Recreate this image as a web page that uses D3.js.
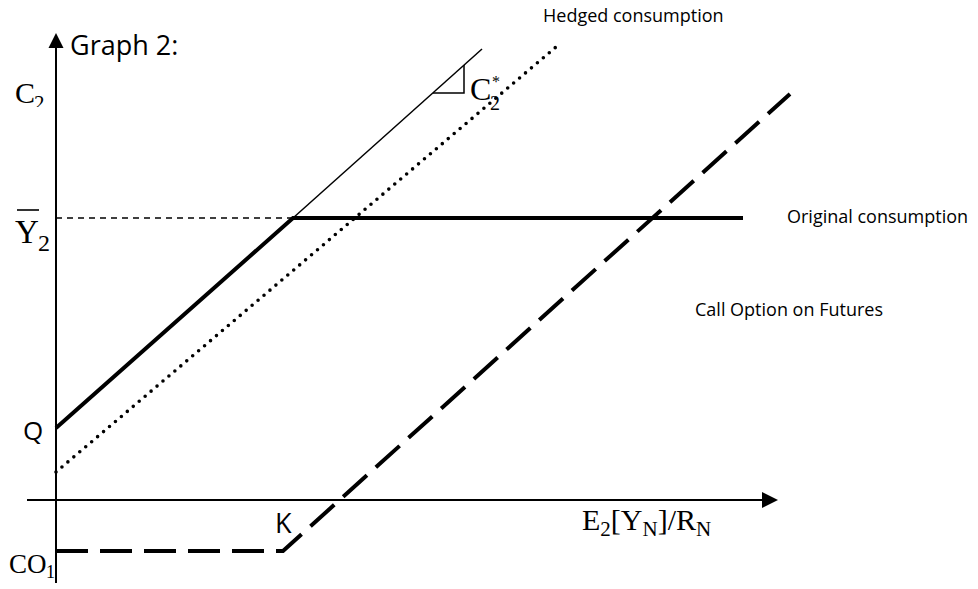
<!DOCTYPE html>
<html>
<head>
<meta charset="utf-8">
<script src="https://cdn.jsdelivr.net/npm/d3@7"></script>
<style>
  html, body { margin: 0; padding: 0; background: #fff; }
  svg { display: block; }
  .sans { font-family: "Open Sans", sans-serif; fill: #000; }
  .serif { font-family: "Liberation Serif", "DejaVu Serif", serif; fill: #000; }
</style>
</head>
<body>
<svg id="chart" width="978" height="589"></svg>
<script>
// ---------- data (abstract diagram units) ----------
const axisXExtent = [-0.58, 14.44];       // horizontal axis, from left stub to arrow tip
const axisYExtent = [-1.66, 9.34];        // vertical axis, from bottom stub to arrow tip
const originalX = [0, 4.74, 13.74];       // original consumption (thick)
const originalY = [1.44, 5.64, 5.64];
const thinX = [4.74, 8.52];               // continuation of 45° line (thin)
const thinY = [5.64, 9.02];
const hedgedX = [0, 10.0];                // hedged consumption (dotted)
const hedgedY = [0.56, 9.06];
const callX = [0, 4.54, 14.68];           // call option on futures (dashed)
const callY = [-1.02, -1.02, 8.12];
const guideX = [0, 4.74];                 // Ybar guide (thin dashed)
const guideY = [5.64, 5.64];
const triX = [7.54, 8.16, 8.16];          // slope triangle C2*
const triY = [8.14, 8.14, 8.70];
const seriesLabels = ["Hedged consumption", "Original consumption", "Call Option on Futures"];

// ---------- scales ----------
const x = d3.scaleLinear().domain([0, 15]).range([56, 806]);
const y = d3.scaleLinear().domain([0, 9]).range([500, 50]);

const svg = d3.select("#chart");
const line = d3.line().x(d => x(d[0])).y(d => y(d[1]));
const pts = (xs, ys) => xs.map((v, i) => [v, ys[i]]);

// ---------- axes ----------
svg.append("line")
  .attr("x1", x(axisXExtent[0])).attr("x2", x(axisXExtent[1]) - 10)
  .attr("y1", y(0)).attr("y2", y(0))
  .attr("stroke", "#000").attr("stroke-width", 2);
svg.append("path")
  .attr("d", `M${x(axisXExtent[1])},${y(0)} L${x(axisXExtent[1]) - 16},${y(0) - 8} L${x(axisXExtent[1]) - 16},${y(0) + 8} Z`)
  .attr("fill", "#000");
svg.append("line")
  .attr("x1", x(0)).attr("x2", x(0))
  .attr("y1", y(axisYExtent[0])).attr("y2", y(axisYExtent[1]) + 10)
  .attr("stroke", "#000").attr("stroke-width", 2);
svg.append("path")
  .attr("d", `M${x(0)},${y(axisYExtent[1])} L${x(0) - 7.5},${y(axisYExtent[1]) + 15} L${x(0) + 7.5},${y(axisYExtent[1]) + 15} Z`)
  .attr("fill", "#000");

// ---------- guide line ----------
svg.append("path").attr("d", line(pts(guideX, guideY)))
  .attr("fill", "none").attr("stroke", "#000").attr("stroke-width", 1.3)
  .attr("stroke-dasharray", "6,5");

// ---------- series ----------
svg.append("path").attr("d", line(pts(thinX, thinY)))
  .attr("fill", "none").attr("stroke", "#000").attr("stroke-width", 1.5);

svg.append("path").attr("d", line(pts(originalX, originalY)))
  .attr("fill", "none").attr("stroke", "#000").attr("stroke-width", 4)
  .attr("stroke-linejoin", "miter");

svg.append("path").attr("d", line(pts(hedgedX, hedgedY)))
  .attr("fill", "none").attr("stroke", "#000").attr("stroke-width", 3.6)
  .attr("stroke-linecap", "round").attr("stroke-dasharray", "0,7.8");

svg.append("path").attr("d", line(pts(callX, callY)))
  .attr("fill", "none").attr("stroke", "#000").attr("stroke-width", 4)
  .attr("stroke-dasharray", "32,12");

svg.append("path").attr("d", line(pts(triX, triY)))
  .attr("fill", "none").attr("stroke", "#000").attr("stroke-width", 1.5);

// ---------- text ----------
svg.append("text").attr("class", "sans").attr("x", 70).attr("y", 55)
  .attr("font-size", 27).text("Graph 2:");

// C2 (clipped at bottom as in the original)
svg.append("clipPath").attr("id", "c2clip").append("rect")
  .attr("x", 0).attr("y", 60).attr("width", 60).attr("height", 47);
const c2 = svg.append("g").attr("clip-path", "url(#c2clip)");
c2.append("text").attr("class", "serif").attr("x", 15).attr("y", 103).attr("font-size", 30).text("C");
c2.append("text").attr("class", "serif").attr("x", 34).attr("y", 110).attr("font-size", 21).text("2");

// Ybar2
svg.append("text").attr("class", "serif").attr("x", 15).attr("y", 243).attr("font-size", 33).text("Y");
svg.append("line").attr("x1", 17).attr("x2", 39).attr("y1", 210).attr("y2", 210)
  .attr("stroke", "#000").attr("stroke-width", 1.6);
svg.append("text").attr("class", "serif").attr("x", 38).attr("y", 251).attr("font-size", 24).text("2");

// Q
svg.append("text").attr("class", "sans").attr("x", 23).attr("y", 440).attr("font-size", 26).text("Q");

// CO1
svg.append("text").attr("class", "serif").attr("x", 9).attr("y", 573).attr("font-size", 27).text("CO");
svg.append("text").attr("class", "serif").attr("x", 46).attr("y", 578).attr("font-size", 18).text("1");

// K
svg.append("text").attr("class", "sans").attr("x", 275).attr("y", 533).attr("font-size", 27).text("K");

// C2*
svg.append("text").attr("class", "serif").attr("x", 470).attr("y", 100).attr("font-size", 32).text("C");
svg.append("text").attr("class", "serif").attr("x", 492).attr("y", 87).attr("font-size", 16).text("*");
svg.append("text").attr("class", "serif").attr("x", 490).attr("y", 110).attr("font-size", 20).text("2");

// x-axis label E2[YN]/RN
const xl = svg.append("text").attr("class", "serif").attr("x", 582).attr("y", 530).attr("font-size", 30);
xl.append("tspan").text("E");
xl.append("tspan").attr("font-size", 21).attr("dy", 6).text("2");
xl.append("tspan").attr("dy", -6).text("[Y");
xl.append("tspan").attr("font-size", 21).attr("dy", 6).text("N");
xl.append("tspan").attr("dy", -6).text("]/R");
xl.append("tspan").attr("font-size", 21).attr("dy", 6).text("N");

// series labels
svg.append("text").attr("class", "sans").attr("x", 543).attr("y", 22).attr("font-size", 18).text(seriesLabels[0]);
svg.append("text").attr("class", "sans").attr("x", 787).attr("y", 223).attr("font-size", 18).text(seriesLabels[1]);
svg.append("text").attr("class", "sans").attr("x", 695).attr("y", 316).attr("font-size", 18).text(seriesLabels[2]);
</script>
</body>
</html>
